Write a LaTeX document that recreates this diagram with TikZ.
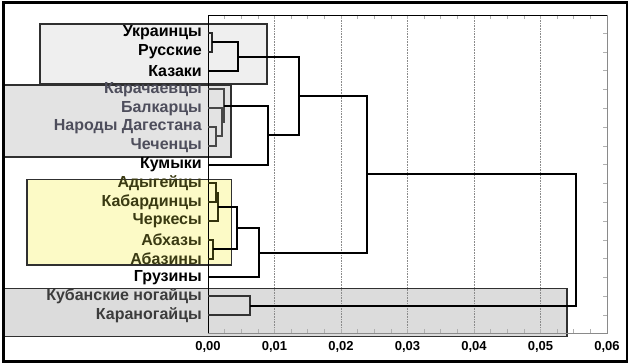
\documentclass[tikz,border=0pt]{standalone}
\usepackage{fontspec}
\setmainfont{Liberation Sans}
\definecolor{boxA}{HTML}{EFEFEF}
\definecolor{boxB}{HTML}{E3E3E3}
\definecolor{boxC}{HTML}{FCFAC6}
\definecolor{boxD}{HTML}{DCDCDC}
\definecolor{edgeC}{HTML}{303030}
\definecolor{txtB}{HTML}{4E4E5C}
\definecolor{txtC}{HTML}{3A3A12}
\definecolor{txtD}{HTML}{3C3C3C}
\definecolor{lnA}{HTML}{2A2A2A}
\definecolor{lnB}{HTML}{474747}
\definecolor{lnC}{HTML}{33330C}
\definecolor{lnD}{HTML}{333333}
\definecolor{gridc}{HTML}{8A8A8A}
\definecolor{tickc}{HTML}{B0B0B0}
\begin{document}
\begin{tikzpicture}[x=1pt,y=-1pt,
  grp/.style={draw=edgeC,line width=1.5pt},
  lbl/.style={anchor=east,inner sep=0pt,font=\bfseries\fontsize{16}{18}\selectfont},
  axl/.style={anchor=center,inner sep=0pt,font=\bfseries\fontsize{13}{14}\selectfont},
  br/.style={line width=2pt,line join=miter},
  gridl/.style={gridc,densely dotted,line width=0.6pt},
  tk/.style={tickc,line width=0.6pt}]
\useasboundingbox (0,0) rectangle (632,364);
% group boxes
\draw[grp,fill=boxA] (40,24) rectangle (267,84);
\draw[grp,fill=boxB] (3,85) rectangle (231,157);
\draw[grp,fill=boxC] (27,179.5) rectangle (231.5,265);
\draw[grp,fill=boxD] (3,288.5) rectangle (567,336.5);
% grid
\foreach \gx in {274.5,341,407.5,474,540.5} \draw[gridl] (\gx,15) -- (\gx,333);
% ticks
\foreach \i in {0,...,15} \draw[tk] (603,{33+18.8*\i}) -- (607,{33+18.8*\i});
\foreach \i in {1,...,23} {
  \draw[tk] ({208+16.625*\i},15) -- ({208+16.625*\i},19);
  \draw[tk] ({208+16.625*\i},333) -- ({208+16.625*\i},329);}
% plot frame
\draw[line width=0.8pt] (208,333) -- (208,15) -- (607,15);
\draw[gridc,line width=0.6pt] (607,15) -- (607,333) -- (208,333);
% outer frame
\draw[line width=2.8pt] (3.3,2.3) rectangle (627,361.5);
% leaf labels
\node[lbl,text=black] (t0) at (202,33) {Украинцы};
\node[lbl,text=black] (t1) at (202,51.8) {Русские};
\node[lbl,text=black] (t2) at (202,70.6) {Казаки};
\node[lbl,text=txtB] (t3) at (202,89.4) {Карачаевцы};
\node[lbl,text=txtB] (t4) at (202,108.2) {Балкарцы};
\node[lbl,text=txtB] (t5) at (202,127) {Народы Дагестана};
\node[lbl,text=txtB] (t6) at (202,145.8) {Чеченцы};
\node[lbl,text=black] (t7) at (202,164.6) {Кумыки};
\node[lbl,text=txtC] (t8) at (202,183.4) {Адыгейцы};
\node[lbl,text=txtC] (t9) at (202,202.2) {Кабардинцы};
\node[lbl,text=txtC] (t10) at (202,221) {Черкесы};
\node[lbl,text=txtC] (t11) at (202,239.8) {Абхазы};
\node[lbl,text=txtC] (t12) at (202,258.6) {Абазины};
\node[lbl,text=black] (t13) at (202,277.4) {Грузины};
\node[lbl,text=txtD] (t14) at (202,296.2) {Кубанские ногайцы};
\node[lbl,text=txtD] (t15) at (202,315) {Караногайцы};
% leaf anchors
\foreach \i in {0,...,15} \coordinate (l\i) at (208,{33+18.8*\i});
% joins
\coordinate (j01) at (211.7,42.4);
\coordinate (j012) at (237.7,56.5);
\coordinate (j56) at (216,136.4);
\coordinate (j456) at (221.7,122.3);
\coordinate (j3456) at (224.3,105.85);
\coordinate (j37) at (267.7,135.2);
\coordinate (jup) at (299,95.85);
\coordinate (j89) at (216,192.8);
\coordinate (j8910) at (218.3,206.9);
\coordinate (j1112) at (212.7,249.2);
\coordinate (j812) at (236.5,228);
\coordinate (j813) at (259,252.7);
\coordinate (jmid) at (366.7,174.3);
\coordinate (j1415) at (250,305.6);
\coordinate (jall) at (576,240);
% brackets
\draw[br,lnA] (l0) -| (j01) |- (l1);
\draw[br] (j01) -| (j012) |- (l2);
\draw[br,lnB] (l5) -| (j56) |- (l6);
\draw[br,lnB] (l4) -| (j456) |- (j56);
\draw[br,lnB] (l3) -| (j3456) |- (j456);
\draw[br] (j3456) -| (j37) |- (l7);
\draw[br] (j012) -| (jup) |- (j37);
\draw[br,lnC] (l8) -| (j89) |- (l9);
\draw[br,lnC] (j89) -| (j8910) |- (l10);
\draw[br,lnC] (l11) -| (j1112) |- (l12);
\draw[br] (j8910) -| (j812) |- (j1112);
\draw[br] (j812) -| (j813) |- (l13);
\draw[br] (jup) -| (jmid) |- (j813);
\draw[br,lnD] (l14) -| (j1415) |- (l15);
\draw[br] (jmid) -| (jall) |- (j1415);
% axis labels
\node[axl] (a0) at (208,347) {0,00};
\node[axl] (a1) at (274.5,347) {0,01};
\node[axl] (a2) at (341,347) {0,02};
\node[axl] (a3) at (407.5,347) {0,03};
\node[axl] (a4) at (474,347) {0,04};
\node[axl] (a5) at (540.5,347) {0,05};
\node[axl] (a6) at (607,347) {0,06};
\end{tikzpicture}
\end{document}
